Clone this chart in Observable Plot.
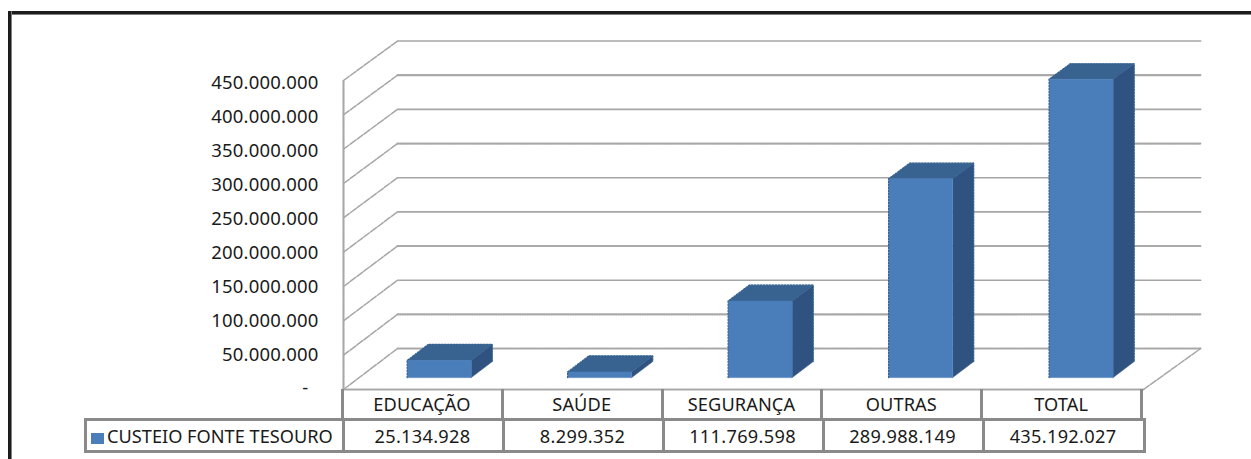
<!DOCTYPE html>
<html lang="pt">
<head>
<meta charset="utf-8">
<script src="https://cdn.jsdelivr.net/npm/d3@7"></script>
<script src="https://cdn.jsdelivr.net/npm/@observablehq/plot@0.6"></script>
<style>
  html, body { margin: 0; padding: 0; background: #fff; overflow: hidden; }
  #page { position: relative; width: 1251px; height: 459px; font-family: "Noto Sans", sans-serif; color: #1a1a1a; }
  #frameH { position: absolute; left: 8px; top: 11px; right: 0; height: 2.5px; background: #1c1c1c; border-bottom: 1.5px solid #808080; }
  #frameV { position: absolute; left: 8px; top: 11px; bottom: 0; width: 2.5px; background: #1c1c1c; border-right: 1px solid #808080; }
  #chart { position: absolute; left: 0; top: 0; }
  #chart svg { display: block; background: transparent; }
  table { position: absolute; border-collapse: collapse; table-layout: fixed; font-size: 18.2px; }
  #cats { left: 341px; top: 389px; width: 802px; height: 29px; }
  #cats td { border-left: 3px solid #8a8a8a; border-right: 3px solid #8a8a8a; padding: 0 1px 0 0; text-align: center; letter-spacing: .1px; }
  #vals { left: 84px; top: 418px; width: 1059px; height: 35px; }
  #vals td { border: 3px solid #8a8a8a; padding: 0 2px 0 0; text-align: center; letter-spacing: .3px; }
  #vals td.name { text-align: left; padding-left: 4px; white-space: nowrap; letter-spacing: 0; }
  .swatch { display: inline-block; width: 13px; height: 11px; background: #4a7ebb; margin-right: 3px; vertical-align: -1px; }
</style>
</head>
<body>
<div id="page">
  <div id="frameH"></div>
  <div id="frameV"></div>
  <div id="chart"></div>
  <table id="cats"></table>
  <table id="vals"></table>
</div>
<script>
const categories = ["EDUCAÇÃO", "SAÚDE", "SEGURANÇA", "OUTRAS", "TOTAL"];
const values = [25134928, 8299352, 111769598, 289988149, 435192027];
const valueLabels = ["25.134.928", "8.299.352", "111.769.598", "289.988.149", "435.192.027"];
const seriesName = "CUSTEIO FONTE TESOURO";
const ticks = [0, 50e6, 100e6, 150e6, 200e6, 250e6, 300e6, 350e6, 400e6, 450e6];
const tickLabels = ["-", "50.000.000", "100.000.000", "150.000.000", "200.000.000", "250.000.000", "300.000.000", "350.000.000", "400.000.000", "450.000.000"];
const wavyLines = [true, true, false, true, false, false, true, false, true, false];

// Oblique projection of the Excel 3-D look, in data units (category steps, value units)
const depthX = 0.3375, depthY = 59.7e6, backShrink = 0.005;
const wallOver = 0.02, barFront = 0.29, barBack = 0.68, barHalf = 0.2, barStep = 1.003;
const px = (i, d) => i + d * depthX;
const py = (v, d) => v * (1 - d * backShrink) + d * depthY;

const ticksT = ticks.map((v, k) => ({v, k, label: tickLabels[k], wavy: wavyLines[k]}));

const backLines = ticksT.flatMap(t => [
  {id: t.k, wavy: t.wavy, x: px(0, 1), y: py(t.v, 1)},
  {id: t.k, wavy: t.wavy, x: px(5, 1) + wallOver, y: py(t.v, 1)}
]);
const sideLines = ticksT.flatMap(t => [
  {id: t.k, x: px(0, 0), y: py(t.v, 0)},
  {id: t.k, x: px(0, 1), y: py(t.v, 1)}
]);
const floorLine = [{x: px(0, 0), y: 0}, {x: px(5, 0), y: 0}];
const floorRight = [{x: px(5, 0), y: 0}, {x: px(5, 1) + wallOver, y: py(0, 1)}];
const wallLeft = [{x: 0, y: 0}, {x: 0, y: 450e6}];

const faces = (kind) => values.flatMap((v, i) => {
  const c = i * barStep + 0.5, l = c - barHalf, r = c + barHalf;
  const a = barFront, b = barBack;
  const pts = kind === "front" ? [[l, 0, a], [r, 0, a], [r, v, a], [l, v, a]]
    : kind === "top" ? [[l, v, a], [r, v, a], [r, v, b], [l, v, b]]
    : [[r, 0, a], [r, 0, b], [r, v, b], [r, v, a]];
  return pts.map(([x, y, d]) => ({id: i, x: px(x, d), y: py(y, d)}));
});
const barOutline = values.flatMap((v, i) => {
  const c = i * barStep + 0.5, l = c - barHalf, r = c + barHalf;
  const a = barFront, b = barBack;
  return [[l, 0, a], [l, v, a], [l, v, b], [r, v, b], [r, 0, b]]
    .map(([x, y, d]) => ({id: i, x: px(x, d), y: py(y, d)}));
});

const grid = {stroke: "#a6a6a6"};
const wavy = {strokeWidth: 2.2, strokeDasharray: "1.2,1.2", stroke: "#a8a8a8"};
const side = {strokeWidth: 1.5, strokeDasharray: "7,1.5"};
const chart = Plot.plot({
  width: 1251,
  height: 410,
  margin: 0,
  style: {letterSpacing: ".2px"},
  x: {domain: [0, 5], range: [343, 1143], axis: null},
  y: {domain: [0, 450e6], range: [389, 80], axis: null},
  marks: [
    Plot.line(backLines.filter(d => !d.wavy), {x: "x", y: "y", z: "id", ...grid, strokeWidth: 1.6}),
    Plot.line(backLines.filter(d => d.wavy), {x: "x", y: "y", z: "id", ...wavy}),
    Plot.line(sideLines, {x: "x", y: "y", z: "id", ...grid, ...side}),
    Plot.line(floorRight, {x: "x", y: "y", ...grid, ...side}),
    Plot.line(floorLine, {x: "x", y: "y", ...wavy}),
    Plot.line(wallLeft, {x: "x", y: "y", ...wavy}),
    Plot.line(faces("side"), {x: "x", y: "y", z: "id", fill: "#2f5280", stroke: "#2f5280", strokeWidth: 0.6}),
    Plot.line(faces("top"), {x: "x", y: "y", z: "id", fill: "#38628f", stroke: "#38628f", strokeWidth: 0.6}),
    Plot.line(faces("front"), {x: "x", y: "y", z: "id", fill: "#4a7ebb", stroke: "#4a7ebb", strokeWidth: 0.6}),
    Plot.line(barOutline, {x: "x", y: "y", z: "id", stroke: "#34618f", strokeWidth: 1.2, strokeDasharray: "1.5,1.5"}),
    Plot.text(ticksT.filter(d => d.v > 0), {
      x: () => 0, y: d => d.v * 0.987, text: "label",
      textAnchor: "end", dx: -25, dy: -1, fontSize: 18.5, fill: "#1a1a1a",
      fontFamily: "Noto Sans", lineAnchor: "middle"
    }),
    Plot.text(ticksT.filter(d => d.v === 0), {
      x: () => 0, y: d => d.v, text: "label",
      textAnchor: "end", dx: -35, dy: -1, fontSize: 18.5, fill: "#1a1a1a",
      fontFamily: "Noto Sans", lineAnchor: "middle"
    })
  ]
});
document.getElementById("chart").append(chart);

const catRow = document.getElementById("cats").insertRow();
categories.forEach(c => { catRow.insertCell().textContent = c; });

const valTable = document.getElementById("vals");
const colgroup = document.createElement("colgroup");
[258, 160, 160, 160, 160, 161].forEach(w => {
  const col = document.createElement("col"); col.style.width = w + "px"; colgroup.append(col);
});
valTable.append(colgroup);
const valRow = valTable.insertRow();
const nameCell = valRow.insertCell();
nameCell.className = "name";
const swatch = document.createElement("span");
swatch.className = "swatch";
nameCell.append(swatch, seriesName);
valueLabels.forEach(v => { valRow.insertCell().textContent = v; });
</script>
</body>
</html>
